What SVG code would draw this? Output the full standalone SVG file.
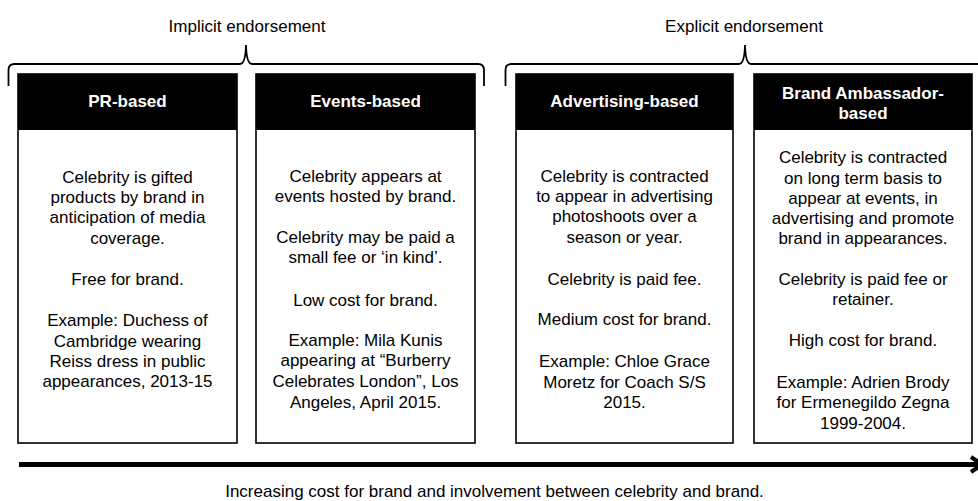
<svg xmlns="http://www.w3.org/2000/svg" width="978" height="501" viewBox="0 0 978 501">
<style>
text{font-family:"Liberation Sans",Arial,sans-serif;font-size:17px;fill:#000;text-anchor:middle}
.hd{fill:#fff;font-weight:bold}
.box{fill:#fff;stroke:#000;stroke-width:1.6}
.hdr{fill:#000}
.brace{fill:none;stroke:#000;stroke-width:1.8}
</style>
<rect width="978" height="501" fill="#fff"/>
<g id="implicit-label">
<text x="247" y="32">Implicit endorsement</text>
<path class="brace" d="M8.5,86 V70 Q8.5,64 14.5,64 H240 Q245.5,64 246,45 Q246.5,64 252,64 H478 Q484,64 484,70 V86"/>
</g>
<g id="explicit-label">
<text x="744" y="32">Explicit endorsement</text>
<path class="brace" d="M505.5,86 V70 Q505.5,64 511.5,64 H739 Q744.5,64 745,45 Q745.5,64 751,64 H985"/>
</g>
<g id="pr-based">
<rect class="box" x="18" y="74" width="219" height="369"/>
<rect class="hdr" x="18" y="74" width="219" height="56"/>
<text class="hd" x="127.5" y="107">PR-based</text>
<text x="127.5" y="182.7">Celebrity is gifted</text>
<text x="127.5" y="203">products by brand in</text>
<text x="127.5" y="223.3">anticipation of media</text>
<text x="127.5" y="243.6">coverage.</text>
<text x="127.5" y="285">Free for brand.</text>
<text x="127.5" y="326">Example: Duchess of</text>
<text x="127.5" y="346.5">Cambridge wearing</text>
<text x="127.5" y="366.8">Reiss dress in public</text>
<text x="127.5" y="387.2">appearances, 2013-15</text>
</g>
<g id="events-based">
<rect class="box" x="256" y="74" width="219" height="369"/>
<rect class="hdr" x="256" y="74" width="219" height="56"/>
<text class="hd" x="365.5" y="107">Events-based</text>
<text x="365.5" y="181.7">Celebrity appears at</text>
<text x="365.5" y="202">events hosted by brand.</text>
<text x="365.5" y="243">Celebrity may be paid a</text>
<text x="365.5" y="263.3">small fee or ‘in kind’.</text>
<text x="365.5" y="305.5">Low cost for brand.</text>
<text x="365.5" y="345.7">Example: Mila  Kunis</text>
<text x="365.5" y="366">appearing at “Burberry</text>
<text x="365.5" y="386.7">Celebrates London”, Los</text>
<text x="365.5" y="407.5">Angeles, April 2015.</text>
</g>
<g id="advertising-based">
<rect class="box" x="516" y="74" width="217" height="369"/>
<rect class="hdr" x="516" y="74" width="217" height="56"/>
<text class="hd" x="624.5" y="107">Advertising-based</text>
<text x="624.5" y="181.7">Celebrity is contracted</text>
<text x="624.5" y="202">to appear in advertising</text>
<text x="624.5" y="222.3">photoshoots over a</text>
<text x="624.5" y="242.7">season or year.</text>
<text x="624.5" y="285">Celebrity is paid fee.</text>
<text x="624.5" y="325">Medium cost for brand.</text>
<text x="624.5" y="367.3">Example: Chloe Grace</text>
<text x="624.5" y="388">Moretz for Coach S/S</text>
<text x="624.5" y="408.3">2015.</text>
</g>
<g id="brand-ambassador-based">
<rect class="box" x="754" y="74" width="218" height="369"/>
<rect class="hdr" x="754" y="74" width="218" height="56"/>
<text class="hd" x="863" y="99">Brand Ambassador-</text>
<text class="hd" x="863" y="118.5">based</text>
<text x="863" y="163.3">Celebrity is contracted</text>
<text x="863" y="183.6">on long term basis to</text>
<text x="863" y="203.8">appear at events, in</text>
<text x="863" y="224">advertising and promote</text>
<text x="863" y="244.3">brand in appearances.</text>
<text x="863" y="285">Celebrity is paid fee or</text>
<text x="863" y="305.3">retainer.</text>
<text x="863" y="346">High cost for brand.</text>
<text x="863" y="388">Example: Adrien Brody</text>
<text x="863" y="408.3">for Ermenegildo Zegna</text>
<text x="863" y="428.5">1999-2004.</text>
</g>
<g id="connectors">
<line x1="19" y1="464.5" x2="982" y2="464.5" stroke="#000" stroke-width="5"/>
<polyline points="971,457 982,464.5 971,472" fill="none" stroke="#000" stroke-width="4"/>
</g>
<g id="axis-label">
<text x="494.5" y="497">Increasing cost for brand and involvement between celebrity and brand.</text>
</g>
</svg>
